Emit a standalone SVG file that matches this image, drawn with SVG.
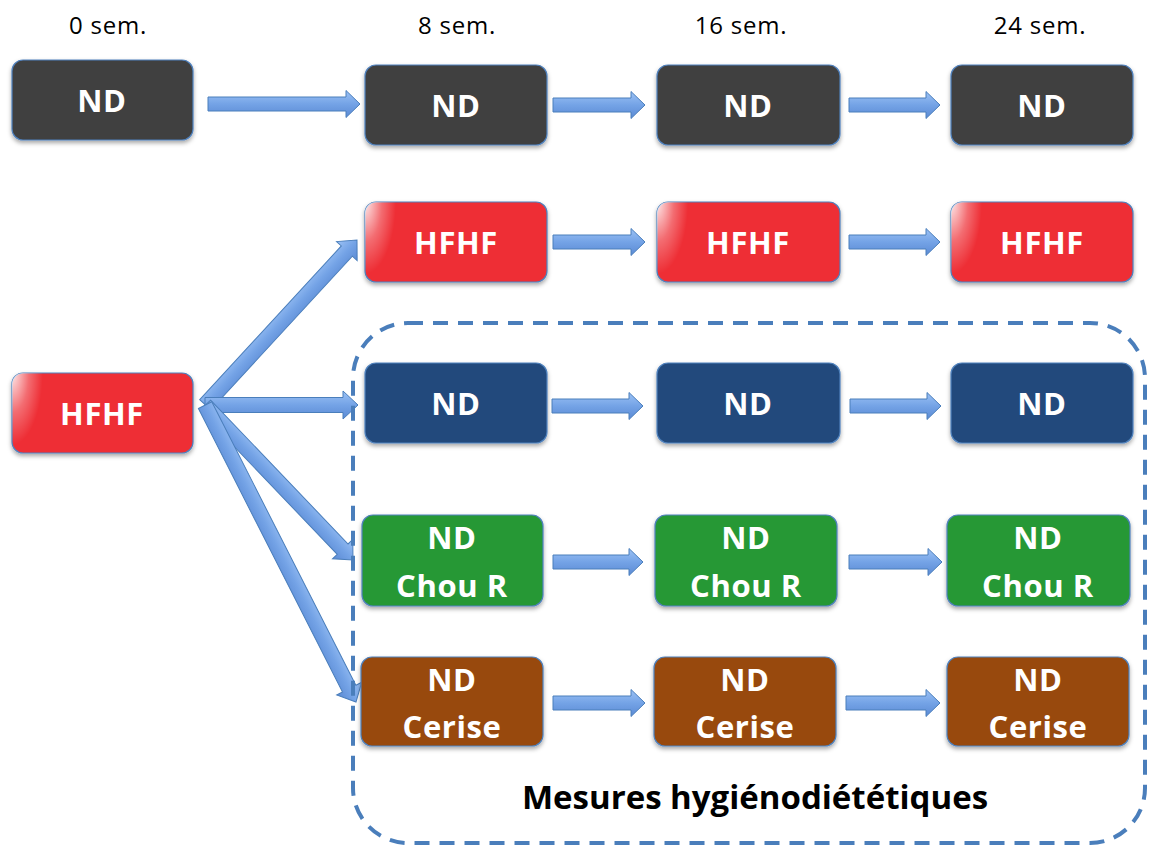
<svg xmlns="http://www.w3.org/2000/svg" width="1153" height="848" viewBox="0 0 1153 848">
<style>
.lbl{font-family:"Open Sans","Liberation Sans",sans-serif;font-size:24px;letter-spacing:0.8px;fill:#000;text-anchor:middle}
.t{font-family:"Open Sans","Liberation Sans",sans-serif;font-weight:bold;font-size:31px;letter-spacing:0.6px;fill:#fff;text-anchor:middle}
.box{stroke:#4f81bd;stroke-width:1.2;filter:url(#sh)}
.gray{fill:#404040}.red{fill:#ee2f35}.blue{fill:#214a7c}.green{fill:#289836}.brown{fill:#984807}
.arr{fill:url(#ag);stroke:#4a7ebb;stroke-width:1}
.title{font-family:"Open Sans","Liberation Sans",sans-serif;font-weight:bold;font-size:33px;fill:#000;text-anchor:middle}
</style>
<defs>
<filter id="sh" x="-10%" y="-10%" width="120%" height="140%">
<feDropShadow dx="0" dy="2.5" stdDeviation="2" flood-color="#000" flood-opacity="0.35"/>
</filter>
<linearGradient id="ag" x1="0" y1="0" x2="0" y2="1">
<stop offset="0" stop-color="#9cc2f5"/>
<stop offset="0.5" stop-color="#74a3e6"/>
<stop offset="1" stop-color="#5b8ad4"/>
</linearGradient>
<radialGradient id="gloss" cx="0" cy="0" r="1" gradientTransform="scale(0.17,0.9)">
<stop offset="0" stop-color="#fff" stop-opacity="0.9"/>
<stop offset="0.55" stop-color="#fff" stop-opacity="0.3"/>
<stop offset="1" stop-color="#fff" stop-opacity="0"/>
</radialGradient>
</defs>
<rect width="1153" height="848" fill="#fff"/>

<g id="time-labels">
<text class="lbl" x="108" y="34">0 sem.</text>
<text class="lbl" x="457" y="34">8 sem.</text>
<text class="lbl" x="741" y="34">16 sem.</text>
<text class="lbl" x="1040" y="34">24 sem.</text>
</g>

<g id="connectors">
<polygon class="arr" transform="translate(360,104)" points="-152,-7 -14,-7 -14,-13.5 0,0 -14,13.5 -14,7 -152,7"/>
<polygon class="arr" transform="translate(645,105)" points="-92,-7 -14,-7 -14,-13.5 0,0 -14,13.5 -14,7 -92,7"/>
<polygon class="arr" transform="translate(940,105)" points="-91,-7 -14,-7 -14,-13.5 0,0 -14,13.5 -14,7 -91,7"/>
<polygon class="arr" transform="translate(645,242)" points="-92,-7 -14,-7 -14,-13.5 0,0 -14,13.5 -14,7 -92,7"/>
<polygon class="arr" transform="translate(940,242)" points="-91,-7 -14,-7 -14,-13.5 0,0 -14,13.5 -14,7 -91,7"/>
<polygon class="arr" transform="translate(643,406)" points="-91,-7 -14,-7 -14,-13.5 0,0 -14,13.5 -14,7 -91,7"/>
<polygon class="arr" transform="translate(941,406)" points="-91,-7 -14,-7 -14,-13.5 0,0 -14,13.5 -14,7 -91,7"/>
<polygon class="arr" transform="translate(643,562)" points="-90,-7 -14,-7 -14,-13.5 0,0 -14,13.5 -14,7 -90,7"/>
<polygon class="arr" transform="translate(942,562)" points="-93,-7 -14,-7 -14,-13.5 0,0 -14,13.5 -14,7 -93,7"/>
<polygon class="arr" transform="translate(645,703)" points="-92,-7 -14,-7 -14,-13.5 0,0 -14,13.5 -14,7 -92,7"/>
<polygon class="arr" transform="translate(940,703)" points="-94,-7 -14,-7 -14,-13.5 0,0 -14,13.5 -14,7 -94,7"/>
<!-- fan-out from HFHF 0 sem. -->
<polygon class="arr" transform="translate(357,240) rotate(-47.35)" points="-224,-7.5 -15,-7.5 -15,-14 0,0 -15,14 -15,7.5 -224,7.5"/>
<polygon class="arr" transform="translate(358,405)" points="-153,-7.5 -15,-7.5 -15,-14 0,0 -15,14 -15,7.5 -153,7.5"/>
<polygon class="arr" transform="translate(353,560) rotate(46.3)" points="-214,-7.5 -15,-7.5 -15,-14 0,0 -15,14 -15,7.5 -214,7.5"/>
<polygon class="arr" transform="translate(356,702) rotate(63.05)" points="-333,-7.5 -15,-7.5 -15,-14 0,0 -15,14 -15,7.5 -333,7.5"/>
</g>

<g id="group-mesures">
<rect x="353" y="323" width="792" height="520" rx="55" fill="none" stroke="#4a7ebb" stroke-width="4" stroke-dasharray="15 10"/>
<text class="title" x="755" y="809">Mesures hygiénodiététiques</text>
</g>

<g id="nd-0"><rect class="box gray" x="12" y="60" width="181" height="80" rx="11"/><text class="t" x="102" y="112">ND</text></g>
<g id="nd-8"><rect class="box gray" x="365" y="65" width="182" height="80" rx="11"/><text class="t" x="456" y="117">ND</text></g>
<g id="nd-16"><rect class="box gray" x="657" y="65" width="183" height="80" rx="11"/><text class="t" x="748" y="117">ND</text></g>
<g id="nd-24"><rect class="box gray" x="951" y="65" width="182" height="80" rx="11"/><text class="t" x="1042" y="117">ND</text></g>

<g id="hfhf-0"><rect class="box red" x="12" y="373" width="181" height="80" rx="11"/><rect x="12" y="373" width="181" height="80" rx="11" fill="url(#gloss)"/><text class="t" x="102" y="425">HFHF</text></g>
<g id="hfhf-8"><rect class="box red" x="365" y="202" width="182" height="80" rx="11"/><rect x="365" y="202" width="182" height="80" rx="11" fill="url(#gloss)"/><text class="t" x="456" y="254">HFHF</text></g>
<g id="hfhf-16"><rect class="box red" x="657" y="202" width="183" height="80" rx="11"/><rect x="657" y="202" width="183" height="80" rx="11" fill="url(#gloss)"/><text class="t" x="748" y="254">HFHF</text></g>
<g id="hfhf-24"><rect class="box red" x="951" y="202" width="182" height="80" rx="11"/><rect x="951" y="202" width="182" height="80" rx="11" fill="url(#gloss)"/><text class="t" x="1042" y="254">HFHF</text></g>

<g id="ndb-8"><rect class="box blue" x="365" y="363" width="182" height="80" rx="11"/><text class="t" x="456" y="415">ND</text></g>
<g id="ndb-16"><rect class="box blue" x="657" y="363" width="183" height="80" rx="11"/><text class="t" x="748" y="415">ND</text></g>
<g id="ndb-24"><rect class="box blue" x="951" y="363" width="182" height="80" rx="11"/><text class="t" x="1042" y="415">ND</text></g>

<g id="chou-8"><rect class="box green" x="362" y="515" width="181" height="91" rx="11"/><text class="t" x="452" y="549">ND</text><text class="t" x="452" y="597">Chou R</text></g>
<g id="chou-16"><rect class="box green" x="655" y="515" width="182" height="91" rx="11"/><text class="t" x="746" y="549">ND</text><text class="t" x="746" y="597">Chou R</text></g>
<g id="chou-24"><rect class="box green" x="947" y="515" width="183" height="91" rx="11"/><text class="t" x="1038" y="549">ND</text><text class="t" x="1038" y="597">Chou R</text></g>

<g id="cerise-8"><rect class="box brown" x="361" y="657" width="182" height="89" rx="11"/><text class="t" x="452" y="691">ND</text><text class="t" x="452" y="738">Cerise</text></g>
<g id="cerise-16"><rect class="box brown" x="654" y="657" width="182" height="89" rx="11"/><text class="t" x="745" y="691">ND</text><text class="t" x="745" y="738">Cerise</text></g>
<g id="cerise-24"><rect class="box brown" x="947" y="657" width="182" height="89" rx="11"/><text class="t" x="1038" y="691">ND</text><text class="t" x="1038" y="738">Cerise</text></g>
</svg>
